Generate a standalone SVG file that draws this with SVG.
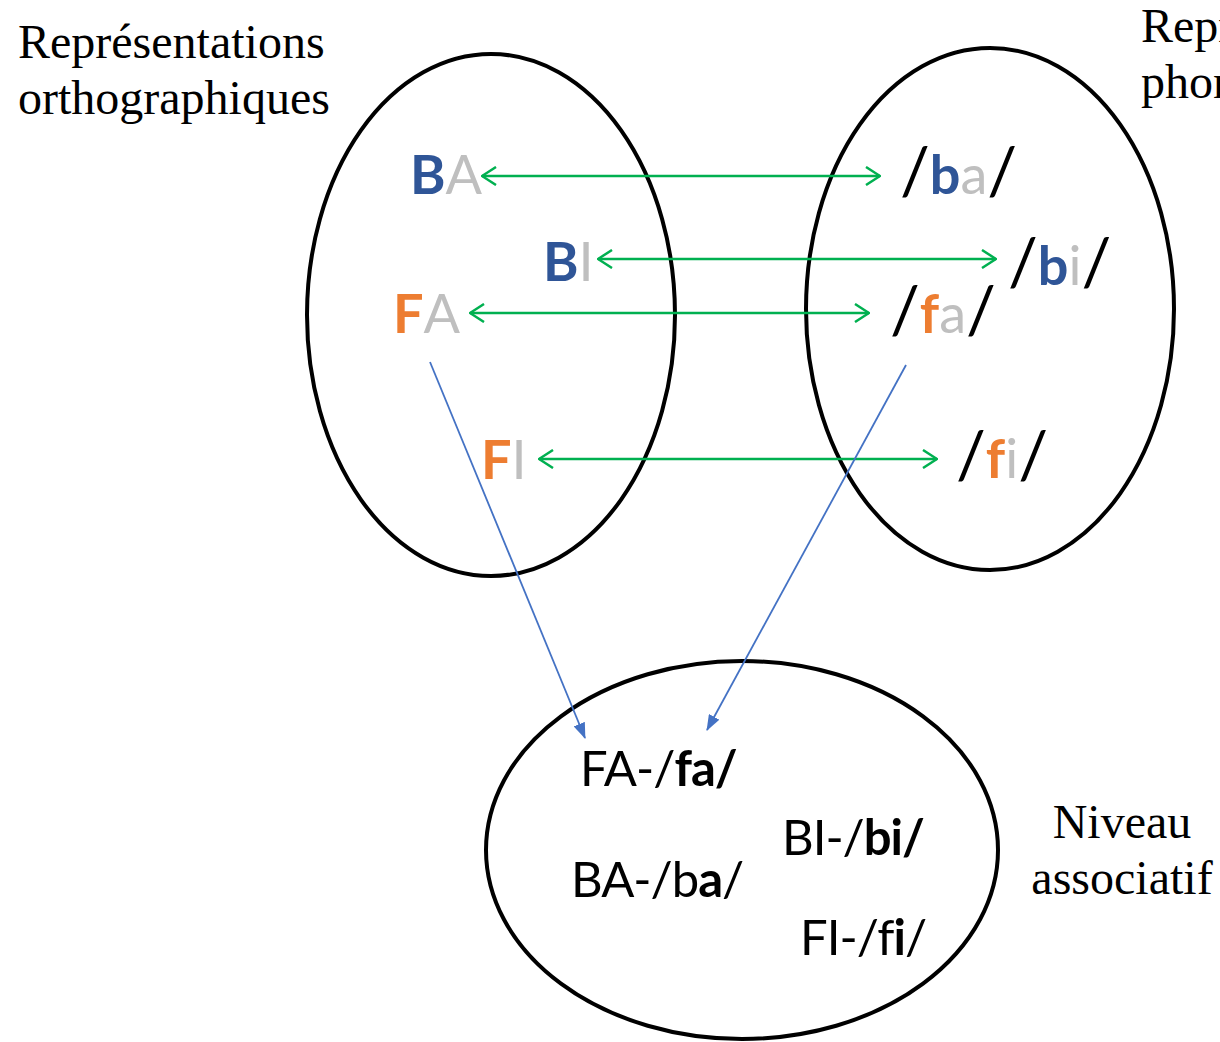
<svg xmlns="http://www.w3.org/2000/svg" width="1220" height="1042" viewBox="0 0 1220 1042">
<style>
.ell{fill:none;stroke:#000;stroke-width:4}
.title{font-family:"Liberation Serif",serif;font-size:48px;fill:#000}
.sym{font-family:Lato,"Open Sans",sans-serif;font-size:54px}
.sl{font-size:66px;fill:#000}
.assoc{font-family:Lato,"Open Sans",sans-serif;font-size:49px;letter-spacing:-1px;fill:#000}
.b{font-weight:bold}
.blue{fill:#2F5597}
.orange{fill:#ED7D31}
.gray{fill:#BFBFBF}
.green{stroke:#00B050;stroke-width:2.5;fill:none}
.bluel{stroke:#4472C4;stroke-width:1.8;fill:none}
</style>
<defs>
<marker id="gv" viewBox="0 0 16 20" refX="15" refY="10" markerWidth="16" markerHeight="20" markerUnits="userSpaceOnUse" orient="auto-start-reverse">
<path d="M1 1 L15 10 L1 19" fill="none" stroke="#00B050" stroke-width="2.5"/>
</marker>
<marker id="bt" viewBox="0 0 16 12" refX="15" refY="6" markerWidth="16" markerHeight="12" markerUnits="userSpaceOnUse" orient="auto">
<path d="M0 0 L16 6 L0 12 Z" fill="#4472C4"/>
</marker>
</defs>
<g id="ortho">
<ellipse class="ell" cx="491" cy="315" rx="184" ry="261"/>
<text class="title" x="18" y="58">Représentations</text>
<text class="title" x="18" y="114">orthographiques</text>
<text class="sym" x="410" y="194"><tspan class="b blue">B</tspan><tspan class="gray">A</tspan></text>
<text class="sym" x="543" y="281"><tspan class="b blue">B</tspan><tspan class="gray">I</tspan></text>
<text class="sym" x="393" y="333"><tspan class="b orange">F</tspan><tspan class="gray">A</tspan></text>
<text class="sym" x="481" y="479"><tspan class="b orange">F</tspan><tspan class="gray">I</tspan></text>
</g>
<g id="phono">
<ellipse class="ell" cx="990" cy="309" rx="184" ry="261"/>
<text class="title" x="1141" y="42">Représentations</text>
<text class="title" x="1141" y="98">phonologiques</text>
<text class="sym" x="900" y="194"><tspan class="sl">/</tspan><tspan class="b blue">b</tspan><tspan class="gray">a</tspan><tspan class="sl">/</tspan></text>
<text class="sym" x="1008" y="285"><tspan class="sl">/</tspan><tspan class="b blue">b</tspan><tspan class="gray">i</tspan><tspan class="sl">/</tspan></text>
<text class="sym" x="890" y="333"><tspan class="sl">/</tspan><tspan class="b orange">f</tspan><tspan class="gray">a</tspan><tspan class="sl">/</tspan></text>
<text class="sym" x="956" y="478"><tspan class="sl">/</tspan><tspan class="b orange">f</tspan><tspan class="gray">i</tspan><tspan class="sl">/</tspan></text>
</g>
<g id="assoc">
<ellipse class="ell" cx="742" cy="850" rx="256" ry="189"/>
<text class="title" x="1122" y="838" text-anchor="middle">Niveau</text>
<text class="title" x="1122" y="894" text-anchor="middle">associatif</text>
<text class="assoc" x="580" y="786">FA-/<tspan class="b">fa/</tspan></text>
<text class="assoc" x="782" y="855">BI-/<tspan class="b">bi/</tspan></text>
<text class="assoc" x="571" y="897">BA-/b<tspan class="b">a</tspan>/</text>
<text class="assoc" x="800" y="955">FI-/f<tspan class="b">i</tspan>/</text>
</g>
<g id="connectors">
<line class="green" x1="482" y1="176" x2="880" y2="176" marker-start="url(#gv)" marker-end="url(#gv)"/>
<line class="green" x1="598" y1="259" x2="996" y2="259" marker-start="url(#gv)" marker-end="url(#gv)"/>
<line class="green" x1="470" y1="313" x2="869" y2="313" marker-start="url(#gv)" marker-end="url(#gv)"/>
<line class="green" x1="539" y1="459" x2="937" y2="459" marker-start="url(#gv)" marker-end="url(#gv)"/>
<line class="bluel" x1="430" y1="362" x2="585" y2="738" marker-end="url(#bt)"/>
<line class="bluel" x1="906" y1="365" x2="707" y2="730" marker-end="url(#bt)"/>
</g>
</svg>
